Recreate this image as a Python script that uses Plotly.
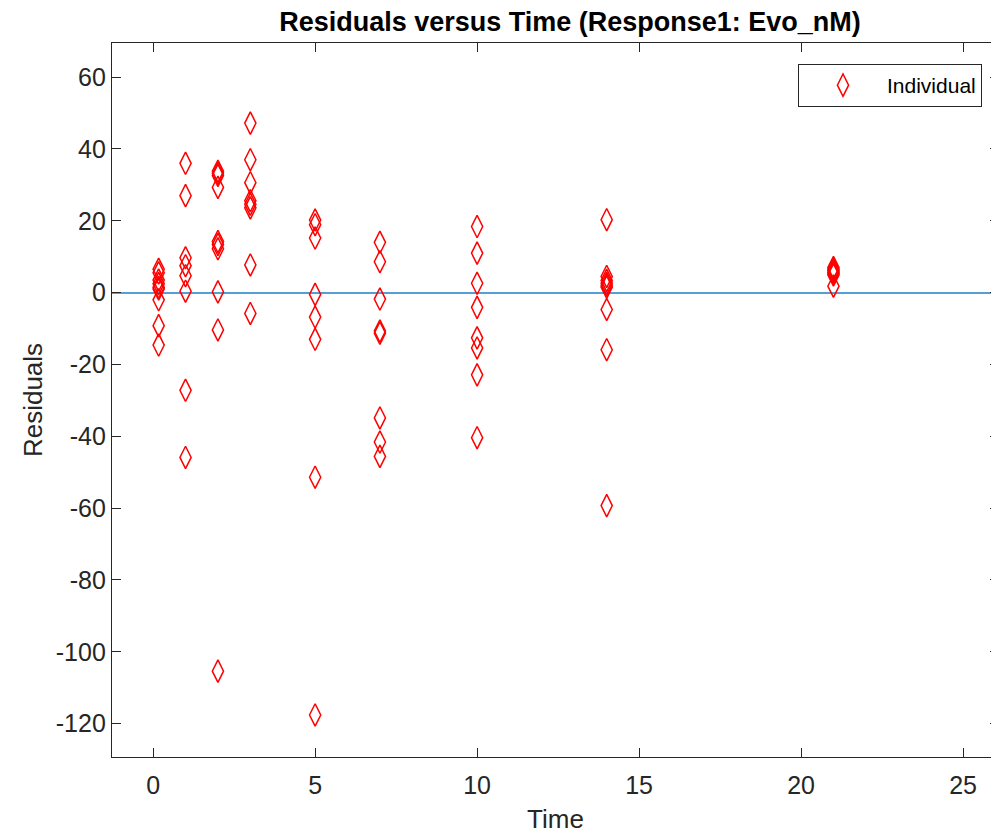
import plotly.graph_objects as go

# Residuals grouped by sampling time
times = [0.17, 1, 2, 3, 5, 7, 10, 14, 21]
residuals_by_time = [
    [6.5, 5.5, 3.5, 2.5, 1.5, 1.0, -2.0, -9.2, -14.6],
    [36.0, 27.0, 9.7, 7.5, 4.7, 0.4, -27.2, -45.9],
    [33.8, 33.2, 32.6, 29.3, 14.2, 13.4, 12.2, 0.2, -10.4, -105.4],
    [47.2, 37.0, 30.6, 25.6, 24.6, 23.6, 7.7, -5.8],
    [20.2, 18.9, 15.2, -0.5, -6.8, -13.0, -51.4, -117.6],
    [14.0, 8.6, -1.8, -10.7, -11.3, -34.9, -41.6, -45.6],
    [18.4, 11.0, 2.6, -4.1, -12.6, -15.4, -22.9, -40.4],
    [20.3, 4.5, 3.4, 2.6, 2.0, 1.5, -4.7, -15.9, -59.3],
    [7.0, 6.5, 6.1, 5.7, 5.3, 4.9, 1.8],
]

x_tick_vals = [0, 5, 10, 15, 20, 25]
x_tick_text = ["0", "5", "10", "15", "20", "25"]
y_tick_vals = [60, 40, 20, 0, -20, -40, -60, -80, -100, -120]
y_tick_text = ["60", "40", "20", "0", "-20", "-40", "-60", "-80", "-100", "-120"]

x_vals = []
y_vals = []
for t, res in zip(times, residuals_by_time):
    for r in res:
        x_vals.append(t)
        y_vals.append(r)

FONT = "Liberation Sans, Arial, Helvetica, sans-serif"
AX = "#262626"

W, H = 991, 826  # page has an 8px body margin

fig = go.Figure()
fig.add_trace(go.Scatter(
    x=x_vals, y=y_vals, mode="markers", name="Individual",
    marker=dict(symbol="diamond-tall-open", size=16, color="#FF0000",
                line=dict(color="#FF0000", width=1.5)),
))

fig.update_layout(
    width=W, height=H,
    margin=dict(l=104, r=0, t=35, b=77, autoexpand=False),
    paper_bgcolor="white", plot_bgcolor="white",
    font=dict(family=FONT, color=AX),
    title=dict(text="<b>Residuals versus Time (Response1: Evo_nM)</b>",
               x=562 / W, xanchor="center", xref="container",
               y=1 - 14 / H, yanchor="middle", yref="container",
               font=dict(size=27, color="#000000", family=FONT)),
    showlegend=True,
    legend=dict(x=(982 - 112) / 887, xanchor="right",
                y=1 - 21 / 714, yanchor="top",
                bgcolor="white", bordercolor=AX, borderwidth=1,
                font=dict(size=21, color="#000000", family=FONT),
                itemwidth=78),
    xaxis=dict(range=[-1.27, 26.11], tickvals=x_tick_vals, ticktext=x_tick_text,
               ticks="inside", ticklen=9, tickwidth=1.3, tickcolor=AX,
               showline=True, linecolor=AX, linewidth=1.3, mirror="ticks",
               showgrid=False, zeroline=False, automargin=False,
               tickfont=dict(size=25, color=AX, family=FONT),
               ticklabelstandoff=6,
               title=dict(text="Time", font=dict(size=26, color=AX, family=FONT),
                          standoff=16)),
    yaxis=dict(range=[-129.3, 69.5], tickvals=y_tick_vals, ticktext=y_tick_text,
               ticks="inside", ticklen=9, tickwidth=1.3, tickcolor=AX,
               showline=True, linecolor=AX, linewidth=1.3, mirror="ticks",
               showgrid=False, zeroline=True, zerolinecolor="#559ED6",
               zerolinewidth=1.5, automargin=False,
               tickfont=dict(size=25, color=AX, family=FONT),
               ticklabelstandoff=0,
               title=dict(text="Residuals", font=dict(size=26, color=AX, family=FONT),
                          standoff=5)),
)

fig.write_html("out.html")
